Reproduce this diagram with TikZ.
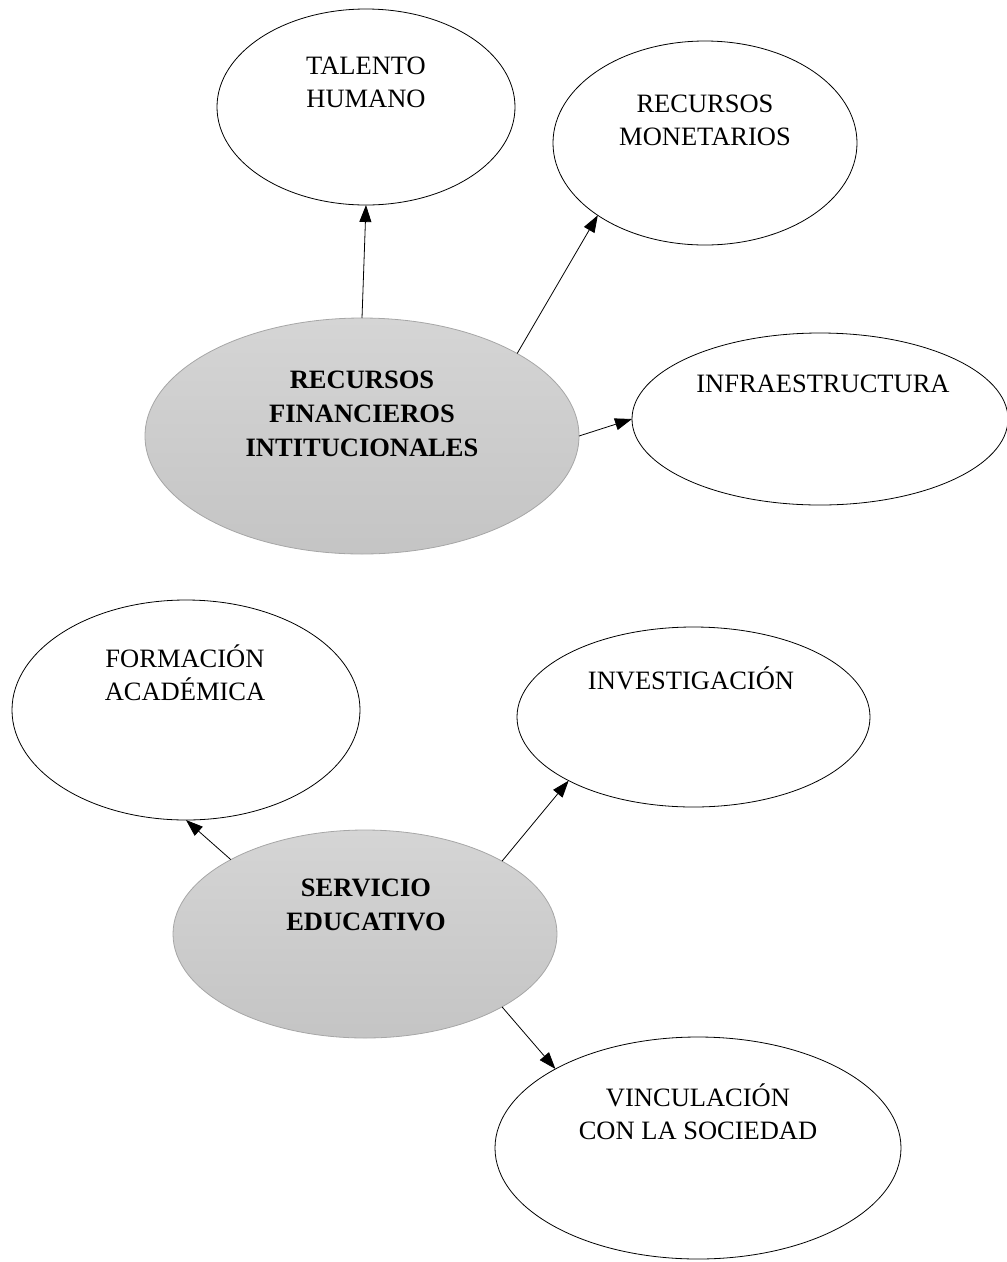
\documentclass[tikz,border=0pt]{standalone}
\usepackage{fontspec}
\setmainfont{Liberation Serif}
\usetikzlibrary{arrows.meta,shapes.geometric}
\begin{document}
\begin{tikzpicture}[x=1pt,y=1pt,
  oval/.style={ellipse, draw=black, line width=0.8pt, inner sep=0pt, outer sep=0pt, fill=white},
  core/.style={ellipse, draw=gray!70, line width=0.8pt, inner sep=0pt, outer sep=0pt, top color=gray!33, bottom color=gray!46},
  lbl/.style={align=center, inner sep=0pt, font=\fontsize{26.5}{33}\selectfont, anchor=base},
  blbl/.style={align=center, inner sep=0pt, font=\fontsize{26.5}{34}\selectfont\bfseries, anchor=base},
  conn/.style={-{Triangle[length=17pt,width=12pt]}, line width=0.8pt}]
\useasboundingbox (0,0) rectangle (1007,-1262);
% ellipses
\node[oval, minimum width=298pt, minimum height=196pt] (tal) at (366,-107) {};
\node[oval, minimum width=304pt, minimum height=204pt] (mon) at (705,-143) {};
\node[oval, minimum width=376pt, minimum height=172pt] (inf) at (820,-419) {};
\node[core, minimum width=434pt, minimum height=236pt] (rf) at (362,-436) {};
\node[oval, minimum width=348pt, minimum height=220pt] (form) at (186,-710) {};
\node[oval, minimum width=353pt, minimum height=180pt] (inv) at (693.5,-717) {};
\node[core, minimum width=384pt, minimum height=208pt] (se) at (365,-934) {};
\node[oval, minimum width=406pt, minimum height=222pt] (vinc) at (698,-1148) {};
% labels (anchor = baseline of last line)
\node[lbl] (talT) at (366,-107) {TALENTO\\HUMANO};
\node[lbl] (monT) at (705,-145) {RECURSOS\\MONETARIOS};
\node[lbl] (infT) at (823,-392) {INFRAESTRUCTURA};
\node[blbl] (rfT) at (362,-456) {RECURSOS\\FINANCIEROS\\INTITUCIONALES};
\node[lbl] (formT) at (185,-700) {FORMACIÓN\\ACADÉMICA};
\node[lbl] (invT) at (691,-689) {INVESTIGACIÓN};
\node[blbl] (seT) at (366,-930) {SERVICIO\\EDUCATIVO};
\node[lbl] (vincT) at (698,-1139) {VINCULACIÓN\\CON LA SOCIEDAD};
% connectors
\draw[conn] (rf.90) -- (tal.270);
\draw[conn] (rf.28.5) -- (mon.214.3);
\draw[conn] (rf.0) -- (inf.180);
\draw[conn] (se.151.3) -- (form.270);
\draw[conn] (se.28.2) -- (inv.207.7);
\draw[conn] (se.332.1) -- (vinc.151.4);
\end{tikzpicture}
\end{document}
